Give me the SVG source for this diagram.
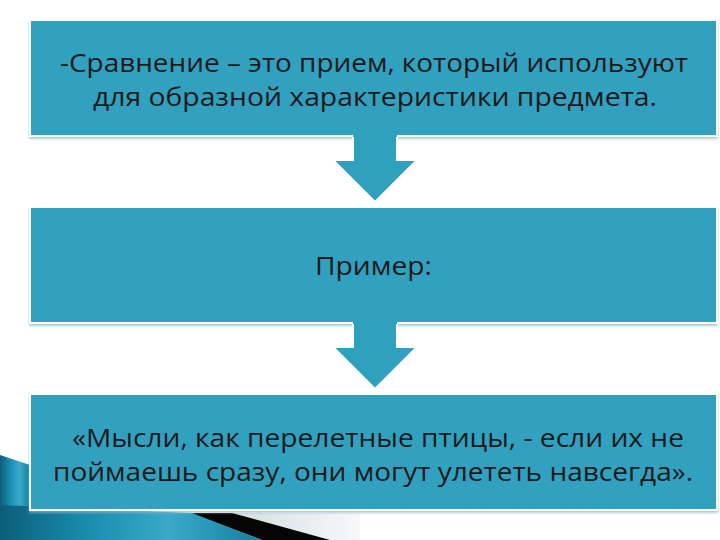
<svg xmlns="http://www.w3.org/2000/svg" width="720" height="540" viewBox="0 0 720 540">
  <defs>
    <linearGradient id="tealGrad" x1="0" y1="0" x2="1" y2="0">
      <stop offset="0" stop-color="#0b5f7a"/>
      <stop offset="0.35" stop-color="#1b8fb0"/>
      <stop offset="0.65" stop-color="#3aa9c9"/>
      <stop offset="1" stop-color="#137f9e"/>
    </linearGradient>
    <linearGradient id="greyGrad" x1="0" y1="0" x2="1" y2="0">
      <stop offset="0" stop-color="#d3dde2"/>
      <stop offset="1" stop-color="#f6f8f9"/>
    </linearGradient>
    <filter id="sh" x="-5%" y="-5%" width="110%" height="120%">
      <feDropShadow dx="0" dy="2" stdDeviation="0.8" flood-color="#8fb3c2" flood-opacity="0.7"/>
    </filter>
  </defs>
  <style>
    .box { fill: #30a0bf; stroke: #ffffff; stroke-width: 2; filter: url(#sh); }
    .afill { fill: #30a0bf; }
    .aline { fill: none; stroke: #ffffff; stroke-width: 2; }
    .t { font-family: "Open Sans", "Noto Sans", "DejaVu Sans", sans-serif; font-size: 26px; fill: #1a1a1a; }
  </style>
  <rect width="720" height="540" fill="#ffffff"/>

  <!-- decoration bottom-left -->
  <polygon points="0,455 30,465 30,540 0,540" fill="url(#tealGrad)"/>
  <polygon points="230,513 360,513 360,540 325,540" fill="url(#greyGrad)"/>
  <polygon points="190,513 232,513 330,540 262,540" fill="#050505"/>
  <polygon points="0,505 192,513 262,540 0,540" fill="url(#tealGrad)"/>

  <g id="node1">
    <rect class="box" x="30" y="20" width="687" height="116"/>
    <text class="t" x="60" y="72" textLength="628" lengthAdjust="spacingAndGlyphs">-Сравнение – это прием, который используют</text>
    <text class="t" x="93" y="106" textLength="564" lengthAdjust="spacingAndGlyphs">для образной характеристики предмета.</text>
  </g>
  <g id="node2">
    <rect class="box" x="30" y="207" width="687" height="116"/>
    <text class="t" x="315" y="275" textLength="117" lengthAdjust="spacingAndGlyphs">Пример:</text>
  </g>
  <g id="node3">
    <rect class="box" x="30" y="394" width="687" height="116"/>
    <text class="t" x="72" y="447" textLength="612" lengthAdjust="spacingAndGlyphs">«Мысли, как перелетные птицы, - если их не</text>
    <text class="t" x="53" y="481" textLength="640" lengthAdjust="spacingAndGlyphs">поймаешь сразу, они могут улететь навсегда».</text>
  </g>

  <g id="connectors">
    <polygon class="afill" points="353,130 397,130 397,160 417,160 375,202 333,160 353,160"/>
    <polyline class="aline" points="353,137 353,160 333,160 375,202 417,160 397,160 397,137"/>
    <polygon class="afill" points="353,317 397,317 397,347 417,347 375,389 333,347 353,347"/>
    <polyline class="aline" points="353,324 353,347 333,347 375,389 417,347 397,347 397,324"/>
  </g>
</svg>
